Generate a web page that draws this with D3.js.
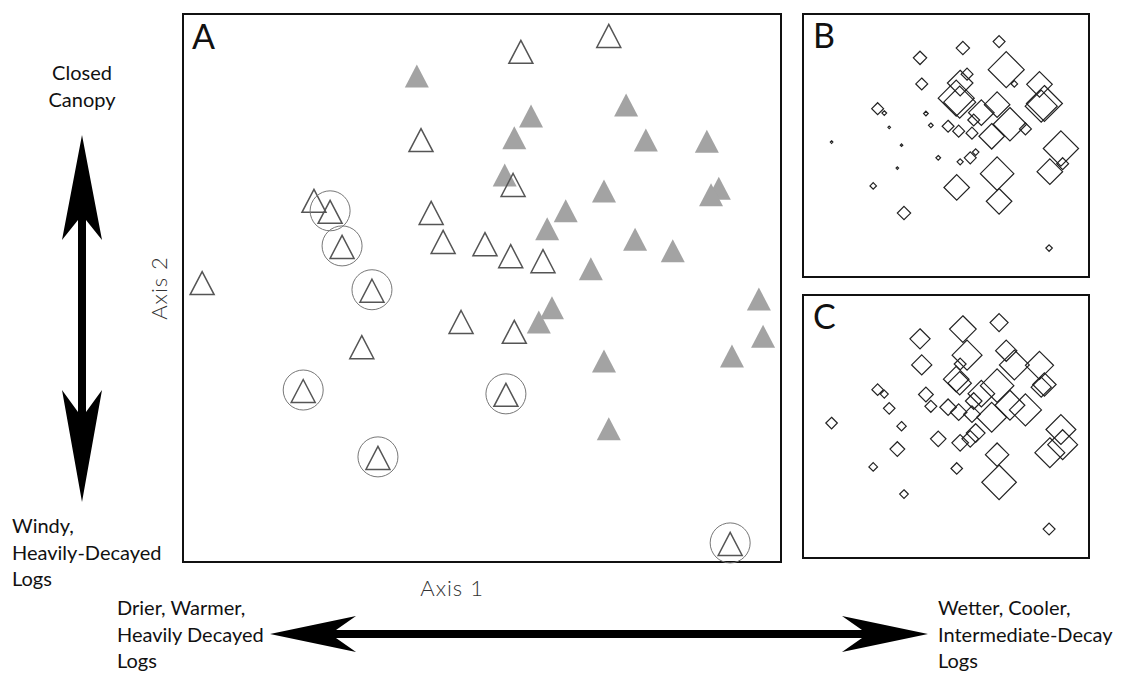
<!DOCTYPE html>
<html>
<head>
<meta charset="utf-8">
<script src="https://cdn.jsdelivr.net/npm/d3@7/dist/d3.min.js"></script>
<style>
  html, body { margin: 0; padding: 0; background: #fff; }
  svg { display: block; }
  text { font-family: Lato, "Open Sans", sans-serif; }
</style>
</head>
<body>
<svg id="chart" width="1130" height="675"></svg>
<script>
// ---- Data: NMS ordination scores (arbitrary units, 0-100) ----
// 43 sample units: 21 open triangles followed by 22 filled triangles
const axis1 = [56.5, 71.2, 39.8, 21.9, 24.6, 26.6, 41.5, 43.5, 50.5, 55.2, 54.8, 60.2, 3.2, 31.6, 46.5, 55.4, 29.9, 20.1, 54.0, 32.6, 91.5,
               39.1, 74.1, 58.2, 55.4, 77.4, 87.6, 53.8, 70.4, 89.6, 88.3, 64.0, 60.9, 75.6, 81.9, 68.2, 96.3, 61.7, 59.5, 70.4, 97.0, 91.8, 71.2];
const axis2 = [93.1, 96.0, 77.0, 65.9, 63.9, 57.5, 63.7, 58.4, 58.0, 68.8, 55.8, 54.9, 50.9, 49.5, 43.8, 42.0, 39.2, 31.2, 30.5, 19.0, 3.3,
               88.7, 83.4, 81.4, 77.4, 77.0, 76.8, 70.6, 67.7, 68.2, 67.0, 64.1, 60.8, 58.9, 56.8, 53.5, 48.0, 46.4, 43.8, 36.7, 41.2, 37.6, 24.3];
const group = ["open","open","open","open","open","open","open","open","open","open","open","open","open","open","open","open","open","open","open","open","open",
               "filled","filled","filled","filled","filled","filled","filled","filled","filled","filled","filled","filled","filled","filled","filled","filled","filled","filled","filled","filled","filled","filled"];
const circled = [0,0,0,0,1,1,0,0,0,0,0,0,0,1,0,0,0,1,1,1,1,
                 0,0,0,0,0,0,0,0,0,0,0,0,0,0,0,0,0,0,0,0,0,0];
// Relative abundance (0-100) shown as diamond size in panels B and C
const sizeB = [37, 33, 33, 33, 13, 7, 13, 13, 33, 89, 33, 33, 7, 7, 13, 17, 7, 18, 71, 37, 18,
               37, 100, 33, 71, 18, 71, 100, 71, 100, 89, 71, 33, 93, 33, 71, 98, 18, 33, 93, 33, 71, 71];
const sizeC = [74, 50, 56, 32, 22, 32, 41, 33, 46, 65, 46, 46, 32, 26, 43, 46, 41, 24, 32, 24, 33,
               56, 59, 83, 33, 83, 78, 71, 93, 65, 56, 74, 46, 83, 89, 83, 83, 52, 46, 65, 83, 83, 96];
const panelLabels = ["A", "B", "C"];

const points = axis1.map((x, i) => ({x, y: axis2[i], g: group[i], c: circled[i], sb: sizeB[i], sc: sizeC[i]}));

const svg = d3.select("#chart");

// ---- Panel A ----
const A = {x: 183, y: 14, w: 598, h: 548};
const xA = d3.scaleLinear().domain([0, 100]).range([A.x, A.x + A.w]);
const yA = d3.scaleLinear().domain([0, 100]).range([A.y + A.h, A.y]);

svg.append("rect").attr("x", A.x).attr("y", A.y).attr("width", A.w).attr("height", A.h)
  .attr("fill", "none").attr("stroke", "#111").attr("stroke-width", 2);

const triW = 24, triH = 23;
const triPath = `M0,${-triH/2}L${triW/2},${triH/2}L${-triW/2},${triH/2}Z`;

const gA = svg.append("g");
gA.selectAll("path.filled").data(points.filter(d => d.g === "filled")).join("path")
  .attr("class", "filled")
  .attr("d", triPath)
  .attr("transform", d => `translate(${xA(d.x)},${yA(d.y)})`)
  .attr("fill", "#a3a3a3");
gA.selectAll("path.open").data(points.filter(d => d.g === "open")).join("path")
  .attr("class", "open")
  .attr("d", triPath)
  .attr("transform", d => `translate(${xA(d.x)},${yA(d.y)})`)
  .attr("fill", "none").attr("stroke", "#555").attr("stroke-width", 1.5).attr("stroke-linejoin", "miter");
gA.selectAll("circle").data(points.filter(d => d.c)).join("circle")
  .attr("cx", d => xA(d.x)).attr("cy", d => yA(d.y) - 1).attr("r", 20)
  .attr("fill", "none").attr("stroke", "#777").attr("stroke-width", 1);

svg.append("text").attr("x", A.x + 9).attr("y", A.y + 35).text(panelLabels[0])
  .attr("font-size", 34).attr("fill", "#111");

// ---- Panels B and C ----
const sizeScale = d3.scaleLinear().domain([0, 100]).range([0, 18]);
function diamond(r) { return `M0,${-r}L${r},0L0,${r}L${-r},0Z`; }

function smallPanel(box, key, label) {
  const xs = d3.scaleLinear().domain([-8.4, 107.7]).range([box.x, box.x + box.w]);
  const ys = d3.scaleLinear().domain([-9.7, 108.4]).range([box.y + box.h, box.y]);
  svg.append("rect").attr("x", box.x).attr("y", box.y).attr("width", box.w).attr("height", box.h)
    .attr("fill", "none").attr("stroke", "#111").attr("stroke-width", 2);
  svg.append("g").selectAll("path").data(points).join("path")
    .attr("d", d => diamond(Math.max(1, sizeScale(d[key]))))
    .attr("transform", d => `translate(${xs(d.x)},${ys(d.y)})`)
    .attr("fill", "none").attr("stroke", "#222").attr("stroke-width", 1.2);
  svg.append("text").attr("x", box.x + 10).attr("y", box.y + 34).text(label)
    .attr("font-size", 34).attr("fill", "#111");
}
smallPanel({x: 803, y: 14, w: 286, h: 263}, "sb", panelLabels[1]);
smallPanel({x: 803, y: 295, w: 286, h: 263}, "sc", panelLabels[2]);

// ---- Axis titles ----
svg.append("text").attr("x", A.x + A.w * 0.45).attr("y", 596).attr("text-anchor", "middle")
  .attr("font-family", "'Open Sans', sans-serif")
  .attr("font-size", 22).attr("font-weight", 300).attr("fill", "#333").attr("letter-spacing", 1).text("Axis 1");
svg.append("text").attr("transform", "translate(167,288) rotate(-90)").attr("text-anchor", "middle")
  .attr("font-family", "'Open Sans', sans-serif")
  .attr("font-size", 22).attr("font-weight", 300).attr("fill", "#333").attr("letter-spacing", 1).text("Axis 2");

// ---- Gradient arrows (annotations) ----
const ink = "#000";
// vertical double arrow
const vx = 82;
svg.append("path").attr("fill", ink).attr("d",
  `M${vx},135 L${vx+20},240 L${vx+4},220 L${vx+4},412 L${vx+20},390 L${vx},502 L${vx-20},390 L${vx-4},412 L${vx-4},220 L${vx-20},240 Z`);
// horizontal double arrow
const hy = 634, lx = 270, rx = 928;
svg.append("path").attr("fill", ink).attr("d",
  `M${lx},${hy} L${lx+86},${hy-18} L${lx+66},${hy-4} L${rx-66},${hy-4} L${rx-86},${hy-18} L${rx},${hy} L${rx-86},${hy+18} L${rx-66},${hy+4} L${lx+66},${hy+4} L${lx+86},${hy+18} Z`);

// ---- Gradient labels ----
function lines(x, y0, arr, anchor) {
  const t = svg.append("text").attr("x", x).attr("y", y0).attr("font-size", 20).attr("fill", "#111")
    .attr("text-anchor", anchor || "start");
  arr.forEach((s, i) => t.append("tspan").attr("x", x).attr("dy", i ? 26.5 : 0).text(s));
}
lines(82, 80, ["Closed", "Canopy"], "middle");
lines(12, 533, ["Windy,", "Heavily-Decayed", "Logs"]);
lines(117, 615, ["Drier, Warmer,", "Heavily Decayed", "Logs"]);
lines(938, 615, ["Wetter, Cooler,", "Intermediate-Decay", "Logs"]);
</script>
</body>
</html>
